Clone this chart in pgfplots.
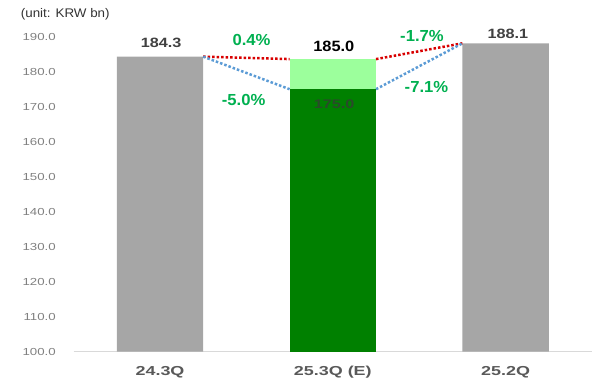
\documentclass[border=0pt]{standalone}
\usepackage{fontspec}
\setmainfont{Liberation Sans}
\newfontfamily\fA[FakeStretch=1.07]{Liberation Sans}
\newfontfamily\fT[FakeStretch=1.3]{Liberation Sans}
\newfontfamily\fC[FakeStretch=1.38]{Liberation Sans}
\newfontfamily\fV[FakeStretch=1.2]{Liberation Sans}
\newfontfamily\fW[FakeStretch=1.1]{Liberation Sans}
\newfontfamily\fP[FakeStretch=1.04]{Liberation Sans}
\newfontfamily\fS[FakeStretch=1.3]{Liberation Sans}
\usepackage{pgfplots}
\pgfplotsset{compat=1.18}
\definecolor{cgray}{HTML}{A6A6A6}
\definecolor{cdark}{HTML}{008000}
\definecolor{clight}{HTML}{9CFF9C}
\definecolor{cpct}{HTML}{00B050}
\definecolor{ctick}{HTML}{808080}
\definecolor{ccat}{HTML}{595959}
\definecolor{cval}{HTML}{404040}
\definecolor{cin}{HTML}{2A4A2A}
\definecolor{cred}{HTML}{D80000}
\definecolor{cblue}{HTML}{5B9BD5}
\begin{document}
\begin{tikzpicture}
\begin{axis}[
  scale only axis, width=518.4pt, height=315pt,
  xmin=-0.5, xmax=2.5, ymin=100, ymax=190,
  axis x line*=bottom, axis y line*=left,
  y axis line style={draw=none},
  x axis line style={draw=black!15, line width=1.2pt, -},
  xtick={0,1,2}, xticklabels={24.3Q,25.3Q (E),25.2Q},
  ytick={100,110,120,130,140,150,160,170,180,190},
  yticklabels={100.0,110.0,120.0,130.0,140.0,150.0,160.0,170.0,180.0,190.0},
  major tick length=0pt,
  clip mode=individual,
  bar width=0.5,
  xticklabel style={font=\fC\bfseries\fontsize{13}{15}\selectfont, text=ccat, anchor=center, inner sep=0pt, yshift=-20.6pt},
  yticklabel style={font=\fT\fontsize{10.2}{12}\selectfont, text=ctick, anchor=east, inner sep=0pt, xshift=-17.6pt},
]
\addplot[ybar, bar shift=0pt, fill=cgray, draw=none] coordinates {(0,184.3) (2,188.1)};
\addplot[ybar, bar shift=0pt, fill=clight, draw=none] coordinates {(1,183.6)};
\addplot[ybar, bar shift=0pt, fill=cdark, draw=none] coordinates {(1,175.0)};
\addplot[cred, line width=2.5pt, dash pattern=on 2.5pt off 2pt, mark=none] coordinates {(0.25,184.3) (0.75,183.6)};
\addplot[cred, line width=2.5pt, dash pattern=on 2.5pt off 2pt, mark=none] coordinates {(1.25,183.6) (1.75,188.1)};
\addplot[cblue, line width=2.5pt, dash pattern=on 2.5pt off 2pt, mark=none] coordinates {(0.25,184.3) (0.75,175.0)};
\addplot[cblue, line width=2.5pt, dash pattern=on 2.5pt off 2pt, mark=none] coordinates {(1.25,175.0) (1.75,188.1)};
\node[anchor=west, inner sep=0pt, font=\fA\fontsize{12.5}{14}\selectfont, text=black!80] at (axis cs:-0.806,196.5) {(unit: KRW bn)};
\node[inner sep=0pt, font=\fV\bfseries\fontsize{13.5}{15}\selectfont, text=cval] at (axis cs:0.006,188.1) {184.3};
\node[inner sep=0pt, font=\fV\bfseries\fontsize{13.5}{15}\selectfont, text=cval] at (axis cs:2.013,190.69) {188.1};
\node[inner sep=0pt, font=\fW\bfseries\fontsize{14.9}{17}\selectfont, text=black] at (axis cs:1.006,187.26) {185.0};
\node[inner sep=0pt, font=\fS\bfseries\fontsize{12.5}{14}\selectfont, text=cin] at (axis cs:1.008,170.77) {175.0};
\node[inner sep=0pt, font=\fP\bfseries\fontsize{16}{18}\selectfont, text=cpct] at (axis cs:0.53,189.06) {0.4\%};
\node[inner sep=0pt, font=\fP\bfseries\fontsize{16}{18}\selectfont, text=cpct] at (axis cs:0.484,171.9) {-5.0\%};
\node[inner sep=0pt, font=\fP\bfseries\fontsize{16}{18}\selectfont, text=cpct] at (axis cs:1.516,190.2) {-1.7\%};
\node[inner sep=0pt, font=\fP\bfseries\fontsize{16}{18}\selectfont, text=cpct] at (axis cs:1.542,175.6) {-7.1\%};
\end{axis}
\pgfresetboundingbox
\path[use as bounding box] ([shift={(-73.6pt,-36.3pt)}]current axis.south west) rectangle ([shift={(8pt,36.7pt)}]current axis.north east);
\end{tikzpicture}
\end{document}
